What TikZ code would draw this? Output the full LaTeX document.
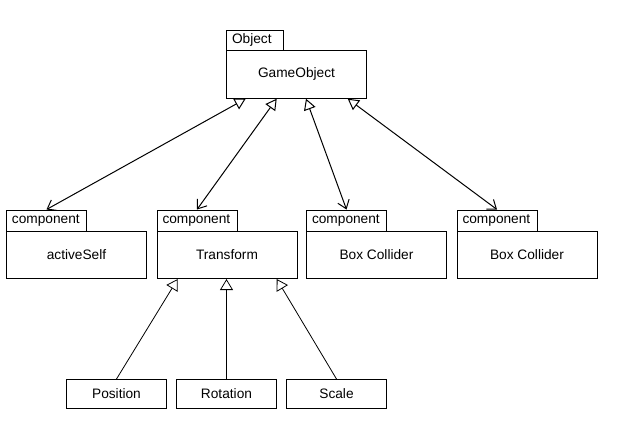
\documentclass[tikz,border=0pt]{standalone}
\usepackage{fontspec}
\setmainfont{Liberation Sans}
\usetikzlibrary{arrows.meta}
\begin{document}
\begin{tikzpicture}[x=1pt,y=-1pt, font=\fontsize{13.7}{16}\selectfont,
 box/.style={draw, line width=1pt, inner sep=0pt, anchor=north west, minimum width=140pt, minimum height=47.5pt},
 tabbox/.style={draw, line width=1pt, inner ysep=0pt, inner xsep=5.5pt, anchor=north west, text width=69pt, minimum height=21pt, align=left},
 leaf/.style={draw, line width=1pt, inner sep=0pt, anchor=north west, minimum width=100pt, minimum height=29pt},
 assoc/.style={line width=1pt, {Triangle[open,length=11pt,width=12pt,fill=white]}-{Straight Barb[length=8pt,width=12pt]}},
 gen/.style={line width=0.8pt, -{Triangle[open,length=11pt,width=13pt,fill=white]}}]
\useasboundingbox (0,0) rectangle (623,437);
\fill[white] (0,0) rectangle (623,437);
% GameObject
\node[tabbox, text width=46pt, minimum height=20.5pt] (gotab) at (226,29.5) {Object};
\node[box, minimum height=47.7pt] (go) at (226,50) {GameObject};
% components
\node[tabbox] (c1tab) at (6,209.5) {component};
\node[box] (c1) at (6,230.5) {activeSelf};
\node[tabbox] (c2tab) at (156.5,209.5) {component};
\node[box] (c2) at (156.5,230.5) {Transform};
\node[tabbox] (c3tab) at (306,209.5) {component};
\node[box] (c3) at (306,230.5) {Box Collider};
\node[tabbox] (c4tab) at (456.5,209.5) {component};
\node[box] (c4) at (456.5,230.5) {Box Collider};
% leaves
\node[leaf] (pos) at (66,379) {Position};
\node[leaf] (rot) at (176,379) {Rotation};
\node[leaf] (sca) at (286,379) {Scale};
% anchor points
\coordinate (g1) at ([xshift=19.7pt]go.south west);
\coordinate (g2) at ([xshift=50.7pt]go.south west);
\coordinate (g3) at ([xshift=80pt]go.south west);
\coordinate (g4) at ([xshift=121.7pt]go.south west);
\coordinate (t1) at ([xshift=21.2pt]c2.south west);
\coordinate (t2) at ([xshift=70pt]c2.south west);
\coordinate (t3) at ([xshift=120.2pt]c2.south west);
% connectors
\draw[assoc] (g1) -- (c1tab.north);
\draw[assoc] (g2) -- (c2tab.north);
\draw[assoc] (g3) -- (c3tab.north);
\draw[assoc] (g4) -- (c4tab.north);
\draw[gen] (pos.north) -- (t1);
\draw[gen] (rot.north) -- (t2);
\draw[gen] (sca.north) -- (t3);
\end{tikzpicture}
\end{document}
